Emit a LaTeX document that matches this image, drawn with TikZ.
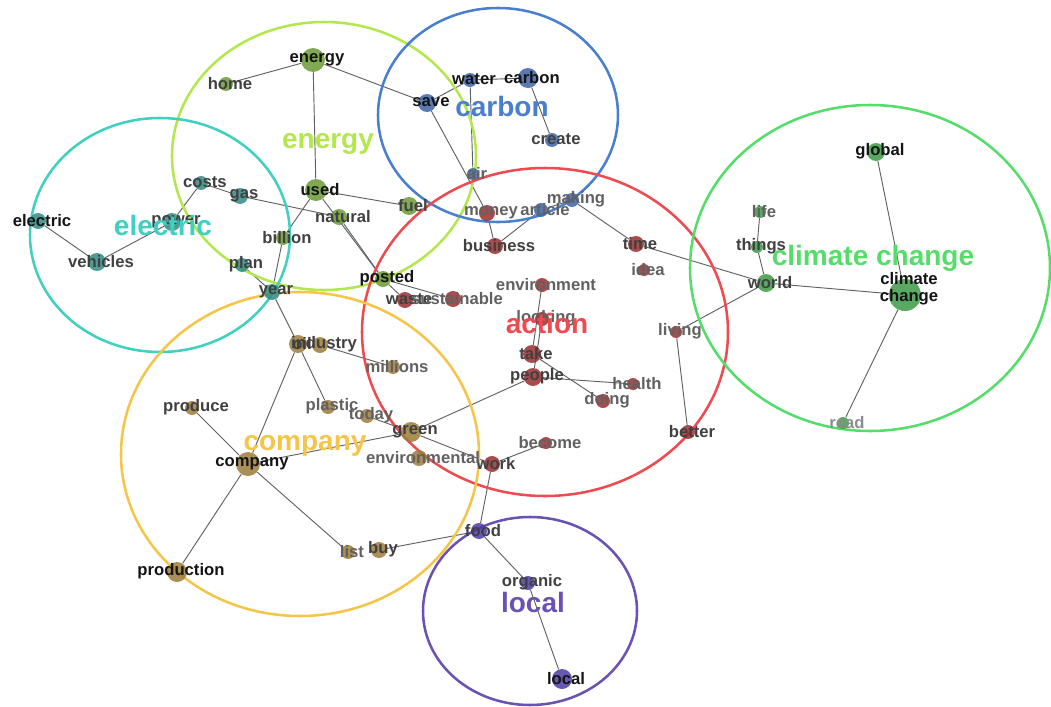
\documentclass[tikz,border=0pt]{standalone}
\usepackage{fontspec}
\setmainfont{Liberation Sans}
\usetikzlibrary{backgrounds}

\definecolor{enD}{HTML}{6B9A35}
\definecolor{enL}{HTML}{B2E84E}
\definecolor{caD}{HTML}{3D63A6}
\definecolor{caL}{HTML}{4A7FD0}
\definecolor{elD}{HTML}{2E8B84}
\definecolor{elL}{HTML}{3FD0C0}
\definecolor{acD}{HTML}{9B2B2E}
\definecolor{acL}{HTML}{EE4A50}
\definecolor{clD}{HTML}{3D9A48}
\definecolor{clL}{HTML}{55DD6A}
\definecolor{coD}{HTML}{9C7B38}
\definecolor{coL}{HTML}{F5C54A}
\definecolor{loD}{HTML}{4D3AA6}
\definecolor{loL}{HTML}{6A52B5}

\tikzset{
	wd/.style={circle, inner sep=0pt, minimum size=#1*1.5pt, fill opacity=0.85},
	lb/.style={font=\bfseries\fontsize{12.5}{13}\selectfont, text=black!92, xshift=3pt, yshift=0.5pt},
	lg/.style={lb, text=black!75},
	ll/.style={lb, text=black!62},
	lk/.style={draw=black!62, line width=0.7pt},
	grp/.style={draw=#1, line width=1.9pt},
	big/.style={font=\bfseries\fontsize{21}{22}\selectfont, text=#1}
}

\begin{document}
\begin{tikzpicture}[x=0.75pt, y=-0.75pt]
	\useasboundingbox (0,0) rectangle (1051,707);
	% energy
	\node (energy)	at (313,  60)	[wd=12, fill=enD, label={[lb]center:energy}]	{};
	\node (home)	at (226,  84)	[wd=7,  fill=enD, label={[lg]center:home}]	{};
	\node (used)	at (316, 190)	[wd=11, fill=enD, label={[lb]center:used}]	{};
	\node (natural)	at (339, 217)	[wd=8,  fill=enD, label={[lg]center:natural}]	{};
	\node (fuel)	at (409, 206)	[wd=9,  fill=enD, label={[lg]center:fuel}]	{};
	\node (billion)	at (283, 238)	[wd=7,  fill=enD, label={[lg]center:billion}]	{};
	\node (posted)	at (383, 279)	[wd=8,  fill=enD, label={[lb]center:posted}]	{};
	% carbon
	\node (save)	at (427, 103)	[wd=9,  fill=caD, label={[lb]center:save}]	{};
	\node (water)	at (470,  80)	[wd=7,  fill=caD, label={[lb]center:water}]	{};
	\node (carbon)	at (528,  78)	[wd=10, fill=caD, label={[lb]center:carbon}]	{};
	\node (create)	at (552, 140)	[wd=7,  fill=caD, label={[lg]center:create}]	{};
	\node (air)	at (473, 174)	[wd=6,  fill=caD, label={[ll]center:air}]	{};
	\node (article)	at (541, 210)	[wd=7,  fill=caD, label={[ll]center:article}]	{};
	\node (making)	at (572, 200)	[wd=7,  fill=caD, label={[ll]center:making}]	{};
	% electric
	\node (costs)	at (201, 183)	[wd=7,  fill=elD, label={[lg]center:costs}]	{};
	\node (gas)	at (240, 196)	[wd=8,  fill=elD, label={[lg]center:gas}]	{};
	\node (power)	at (172, 222)	[wd=9,  fill=elD, label={[lg]center:power}]	{};
	\node (electric)	at (38, 221)	[wd=8,  fill=elD, label={[lb]center:electric}]	{};
	\node (vehicles)	at (97, 262)	[wd=9,  fill=elD, label={[lg]center:vehicles}]	{};
	\node (plan)	at (242, 265)	[wd=7,  fill=elD, label={[lg]center:plan}]	{};
	\node (year)	at (272, 292)	[wd=8,  fill=elD, label={[lg]center:year}]	{};
	% action
	\node (waste)	at (405, 300)	[wd=8,  fill=acD, label={[lg]center:waste}]	{};
	\node (sustainable)	at (453, 299)	[wd=8,  fill=acD, label={[ll]center:sustainable}]	{};
	\node (money)	at (487, 213)	[wd=8,  fill=acD, label={[ll]center:money}]	{};
	\node (business)	at (495, 246)	[wd=8,  fill=acD, label={[lg]center:business}]	{};
	\node (time)	at (636, 244)	[wd=8,  fill=acD, label={[lg]center:time}]	{};
	\node (idea)	at (644, 270)	[wd=6,  fill=acD, label={[ll]center:idea}]	{};
	\node (environment)	at (542, 285)	[wd=7,  fill=acD, label={[ll]center:environment}]	{};
	\node (looking)	at (542, 319)	[wd=7,  fill=acD, label={[ll]center:looking}]	{};
	\node (take)	at (532, 354)	[wd=9,  fill=acD, label={[lg]center:take}]	{};
	\node (people)	at (533, 377)	[wd=9,  fill=acD, label={[lg]center:people}]	{};
	\node (health)	at (633, 384)	[wd=6,  fill=acD, label={[ll]center:health}]	{};
	\node (doing)	at (603, 401)	[wd=7,  fill=acD, label={[ll]center:doing}]	{};
	\node (living)	at (676, 332)	[wd=6,  fill=acD, label={[ll]center:living}]	{};
	\node (better)	at (688, 432)	[wd=7,  fill=acD, label={[lg]center:better}]	{};
	\node (become)	at (546, 443)	[wd=6,  fill=acD, label={[ll]center:become}]	{};
	\node (work)	at (492, 464)	[wd=8,  fill=acD, label={[lg]center:work}]	{};
	% climate change
	\node (world)	at (766, 283)	[wd=9,  fill=clD, label={[lg]center:world}]	{};
	\node (things)	at (757, 247)	[wd=6,  fill=clD, label={[lg]center:things}]	{};
	\node (life)	at (760, 212)	[wd=6,  fill=clD, label={[ll]center:life}]	{};
	\node (global)	at (876, 152)	[wd=9,  fill=clD, label={[lb]center:global}]	{};
	\node (climate)	at (905, 295)	[wd=16, fill=clD, label={[lb, align=center, yshift=4pt]center:climate\\change}]	{};
	\node (read)	at (843, 423)	[wd=6,  fill=clD, label={[ll, text=black!45]center:read}]	{};
	% company
	\node (oil)	at (298, 344)	[wd=9,  fill=coD, label={[lg]center:oil}]	{};
	\node (industry)	at (320, 345)	[wd=8,  fill=coD, label={[lg]center:industry}]	{};
	\node (millions)	at (393, 367)	[wd=7,  fill=coD, label={[ll]center:millions}]	{};
	\node (plastic)	at (328, 407)	[wd=7,  fill=coD, label={[ll]center:plastic}]	{};
	\node (today)	at (367, 416)	[wd=7,  fill=coD, label={[ll]center:today}]	{};
	\node (green)	at (411, 432)	[wd=10, fill=coD, label={[lg]center:green}]	{};
	\node (environmental)	at (419, 458)	[wd=8,  fill=coD, label={[ll]center:environmental}]	{};
	\node (produce)	at (192, 408)	[wd=7,  fill=coD, label={[lg]center:produce}]	{};
	\node (company)	at (248, 464)	[wd=12, fill=coD, label={[lb]center:company}]	{};
	\node (production)	at (177, 572)	[wd=10, fill=coD, label={[lb]center:production}]	{};
	\node (list)	at (348, 552)	[wd=7,  fill=coD, label={[ll]center:list}]	{};
	\node (buy)	at (379, 550)	[wd=8,  fill=coD, label={[lg]center:buy}]	{};
	% local
	\node (food)	at (479, 531)	[wd=8,  fill=loD, label={[lg]center:food}]	{};
	\node (organic)	at (528, 583)	[wd=7,  fill=loD, label={[lg]center:organic}]	{};
	\node (local)	at (562, 679)	[wd=10, fill=loD, label={[lb]center:local}]	{};

	\begin{scope}[on background layer]
		\draw[lk] (energy) -- (home);
		\draw[lk] (energy) -- (save);
		\draw[lk] (energy) -- (used);
		\draw[lk] (save) -- (water);
		\draw[lk] (save) -- (money);
		\draw[lk] (money) -- (business);
		\draw[lk] (water) -- (carbon);
		\draw[lk] (water) -- (air);
		\draw[lk] (carbon) -- (create);
		\draw[lk] (business) -- (article);
		\draw[lk] (article) -- (making);
		\draw[lk] (making) -- (time);
		\draw[lk] (time) -- (world);
		\draw[lk] (world) -- (things);
		\draw[lk] (things) -- (life);
		\draw[lk] (world) -- (climate);
		\draw[lk] (world) -- (living);
		\draw[lk] (living) -- (better);
		\draw[lk] (global) -- (climate);
		\draw[lk] (climate) -- (read);
		\draw[lk] (used) -- (fuel);
		\draw[lk] (used) -- (billion);
		\draw[lk] (used) -- (posted);
		\draw[lk] (natural) -- (posted);
		\draw[lk] (posted) -- (waste);
		\draw[lk] (posted) -- (sustainable);
		\draw[lk] (costs) -- (gas);
		\draw[lk] (gas) -- (natural);
		\draw[lk] (costs) -- (power);
		\draw[lk] (power) -- (vehicles);
		\draw[lk] (electric) -- (vehicles);
		\draw[lk] (plan) -- (year);
		\draw[lk] (billion) -- (year);
		\draw[lk] (year) -- (oil);
		\draw[lk] (oil) -- (company);
		\draw[lk] (oil) -- (plastic);
		\draw[lk] (industry) -- (millions);
		\draw[lk] (environment) -- (take);
		\draw[lk] (looking) -- (people);
		\draw[lk] (take) -- (doing);
		\draw[lk] (people) -- (health);
		\draw[lk] (people) -- (green);
		\draw[lk] (company) -- (green);
		\draw[lk] (today) -- (green);
		\draw[lk] (green) -- (work);
		\draw[lk] (work) -- (become);
		\draw[lk] (work) -- (food);
		\draw[lk] (food) -- (buy);
		\draw[lk] (food) -- (organic);
		\draw[lk] (organic) -- (local);
		\draw[lk] (company) -- (produce);
		\draw[lk] (company) -- (production);
		\draw[lk] (company) -- (list);

		\draw[grp=enL] (324, 156) ellipse [x radius=152, y radius=134];
		\draw[grp=caL] (498, 115) ellipse [x radius=120, y radius=107];
		\draw[grp=elL] (160, 235) ellipse [x radius=130, y radius=117];
		\draw[grp=acL] (545, 332) ellipse [x radius=183, y radius=164];
		\draw[grp=clL] (870, 268) ellipse [x radius=180, y radius=163];
		\draw[grp=coL] (300, 454) ellipse [x radius=179, y radius=162];
		\draw[grp=loL] (530, 611) ellipse [x radius=107, y radius=94];
	\end{scope}

	\node (Cenergy)	at (328, 144)	[big=enL]	{energy};
	\node (Ccarbon)	at (502, 106)	[big=caL]	{carbon};
	\node (Celectric)	at (163, 225)	[big=elL]	{electric};
	\node (Caction)	at (547, 323)	[big=acL]	{action};
	\node (Cclimate)	at (873, 258)	[big=clL]	{climate change};
	\node (Ccompany)	at (305, 446)	[big=coL]	{company};
	\node (Clocal)	at (533, 602)	[big=loL]	{local};
\end{tikzpicture}
\end{document}
